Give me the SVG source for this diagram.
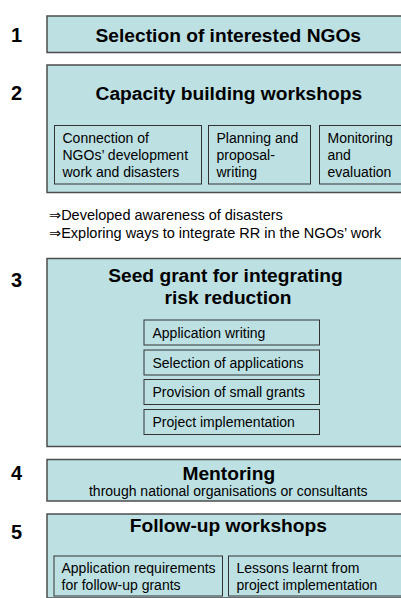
<svg xmlns="http://www.w3.org/2000/svg" width="401" height="598" viewBox="0 0 401 598">
<style>
.outer{fill:#bde0e3;stroke:#4d4d4d;stroke-width:1.5}
.inner{fill:#bde0e3;stroke:#333;stroke-width:1}
.num{font-family:"Liberation Sans",Arial,sans-serif;font-weight:bold;font-size:20px;fill:#000}
.title{font-family:"Liberation Sans",Arial,sans-serif;font-weight:bold;font-size:19.2px;fill:#000;text-anchor:middle}
.txt{font-family:"Liberation Sans",Arial,sans-serif;font-size:14px;fill:#000}
.note{font-family:"Liberation Sans","DejaVu Sans",Arial,sans-serif;font-size:14.5px;fill:#000}
</style>
<rect width="401" height="598" fill="#fff"/>
<g id="connectors"></g>
<g id="step1">
<text class="num" x="11" y="42">1</text>
<rect class="outer" x="47" y="16" width="370" height="36.5"/>
<text class="title" x="228.3" y="41.5">Selection of interested NGOs</text>
</g>
<g id="step2">
<text class="num" x="11" y="100">2</text>
<rect class="outer" x="47" y="65" width="370" height="127.5"/>
<text class="title" x="228.8" y="100">Capacity building workshops</text>
<g id="step2a">
<rect class="inner" x="54.5" y="125.5" width="147" height="58.5"/>
<text class="txt" x="62.5" y="142.5">Connection of</text>
<text class="txt" x="62.5" y="159.5">NGOs’ development</text>
<text class="txt" x="62.5" y="176.5">work and disasters</text>
</g>
<g id="step2b">
<rect class="inner" x="208.5" y="125.5" width="102" height="58.5"/>
<text class="txt" x="216.5" y="142.5">Planning and</text>
<text class="txt" x="216.5" y="159.5">proposal-</text>
<text class="txt" x="216.5" y="176.5">writing</text>
</g>
<g id="step2c">
<rect class="inner" x="319.5" y="125.5" width="100" height="58.5"/>
<text class="txt" x="327.5" y="142.5">Monitoring</text>
<text class="txt" x="327.5" y="159.5">and</text>
<text class="txt" x="327.5" y="176.5">evaluation</text>
</g>
</g>
<g id="outcomes">
<text class="note" x="49" y="220">⇒Developed awareness of disasters</text>
<text class="note" x="49" y="237.5">⇒Exploring ways to integrate RR in the NGOs’ work</text>
</g>
<g id="step3">
<text class="num" x="11" y="287">3</text>
<rect class="outer" x="47" y="258.5" width="370" height="188"/>
<text class="title" x="225.5" y="281.5">Seed grant for integrating</text>
<text class="title" x="228" y="303.5">risk reduction</text>
<g id="step3a"><rect class="inner" x="144" y="320" width="175.5" height="25"/><text class="txt" x="152.5" y="337.5">Application writing</text></g>
<g id="step3b"><rect class="inner" x="144" y="350" width="175.5" height="25"/><text class="txt" x="152.5" y="367.5">Selection of applications</text></g>
<g id="step3c"><rect class="inner" x="144" y="379.5" width="175.5" height="25"/><text class="txt" x="152.5" y="397">Provision of small grants</text></g>
<g id="step3d"><rect class="inner" x="144" y="409.5" width="175.5" height="25"/><text class="txt" x="152.5" y="427">Project implementation</text></g>
</g>
<g id="step4">
<text class="num" x="11" y="480">4</text>
<rect class="outer" x="47" y="459.5" width="370" height="41.5"/>
<text class="title" x="228.8" y="479.5">Mentoring</text>
<text class="txt" x="228.3" y="495.5" text-anchor="middle">through national organisations or consultants</text>
</g>
<g id="step5">
<text class="num" x="11" y="539">5</text>
<rect class="outer" x="47" y="514" width="370" height="84"/>
<text class="title" x="228.3" y="531.5">Follow-up workshops</text>
<g id="step5a">
<rect class="inner" x="54" y="556" width="168.5" height="40"/>
<text class="txt" x="61.5" y="573">Application requirements</text>
<text class="txt" x="61.5" y="589.5">for follow-up grants</text>
</g>
<g id="step5b">
<rect class="inner" x="228.5" y="556" width="190" height="40"/>
<text class="txt" x="236.5" y="573">Lessons learnt from</text>
<text class="txt" x="236.5" y="589.5">project implementation</text>
</g>
</g>
</svg>
